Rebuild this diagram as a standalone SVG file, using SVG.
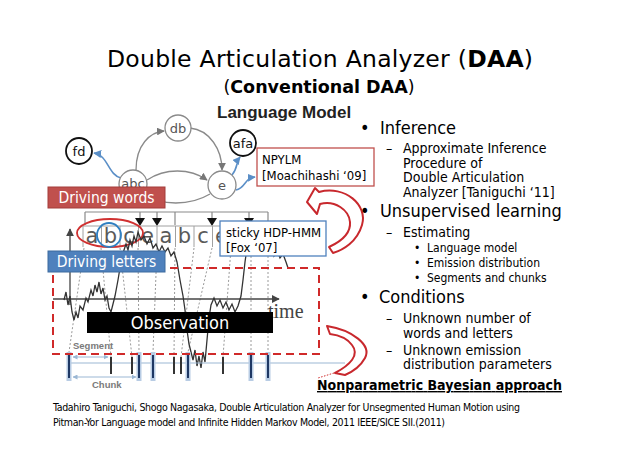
<svg xmlns="http://www.w3.org/2000/svg" width="638" height="452" viewBox="0 0 638 452">
<style>
.t{font-family:"DejaVu Sans Condensed","DejaVu Sans",sans-serif;font-stretch:condensed;fill:#000}
.tn{font-family:"DejaVu Sans",sans-serif;fill:#000}
.node circle{fill:#fff;stroke:#8a8a8a;stroke-width:1.3}
.node text{font-family:"DejaVu Sans",sans-serif;font-size:13px;fill:#555;text-anchor:middle}
.node.strong circle{stroke:#111;stroke-width:1.8}
.node.strong text{fill:#111}
.edge{fill:none;stroke:#8a8a8a;stroke-width:1.3}
.bedge{fill:none;stroke:#5b8fc7;stroke-width:1.6}
.dot{stroke:#9a9a9a;stroke-width:1;stroke-dasharray:2 2;fill:none}
.letter{font-family:"DejaVu Sans",sans-serif;font-size:21px;fill:#5a5a5a;text-anchor:middle}
.cell{stroke:#a0a0a0;stroke-width:1}
.bmark{fill:#b8cce4}
.bbar{stroke:#1f3864;stroke-width:2}
.tick{stroke:#333;stroke-width:2}
.hollow{fill:#fff;stroke:#c8282d;stroke-width:2;stroke-linejoin:round}
</style>
<defs>
<marker id="ag" viewBox="0 0 10 10" refX="9" refY="5" markerWidth="6" markerHeight="6" orient="auto"><path d="M0,0 L10,5 L0,10 z" fill="#777"/></marker>
<marker id="ab" viewBox="0 0 10 10" refX="9" refY="5" markerWidth="5" markerHeight="5" orient="auto"><path d="M0,0 L10,5 L0,10 z" fill="#5b8fc7"/></marker>
<marker id="ak" viewBox="0 0 10 10" refX="9" refY="5" markerWidth="6" markerHeight="6" orient="auto"><path d="M0,0 L10,5 L0,10 z" fill="#444"/></marker>
<marker id="al" viewBox="0 0 10 10" refX="9" refY="5" markerWidth="5" markerHeight="5" orient="auto-start-reverse"><path d="M0,0 L10,5 L0,10 z" fill="#9bb7d4"/></marker>
</defs>
<rect width="638" height="452" fill="#fff"/>

<!-- Title -->
<text class="tn" x="107" y="67" font-size="23.5" textLength="426">Double Articulation Analyzer (<tspan font-weight="bold">DAA</tspan>)</text>
<text class="tn" x="319" y="93" font-size="17.5" text-anchor="middle">(<tspan font-weight="bold">Conventional DAA</tspan>)</text>
<text x="217" y="118" font-family="Liberation Sans,Arial,sans-serif" font-weight="bold" font-size="17" fill="#222">Language Model</text>

<!-- Connectors -->
<g id="connectors">
<path class="edge" d="M136 170 C136 145 150 132 164 131" marker-end="url(#ag)"/>
<path class="edge" d="M190 128 C210 130 222 150 222 170" marker-end="url(#ag)"/>
<path class="edge" d="M147 180 C165 168 190 168 207 180" marker-end="url(#ag)"/>
<path class="edge" d="M210 194 C190 206 160 206 146 194"/>
<path class="bedge" d="M121 178 C108 175 108 155 94 153" marker-end="url(#ab)"/>
<path class="bedge" d="M232 175 C238 168 236 162 240 157" marker-end="url(#ab)"/>
<path class="bedge" d="M236 190 C246 188 244 178 255 177" marker-end="url(#ab)"/>
</g>

<g id="node-db" class="node"><circle cx="178" cy="128" r="13"/><text x="178" y="133">db</text></g>
<g id="node-afa" class="node strong"><circle cx="243" cy="143" r="13"/><text x="243" y="148">afa</text></g>
<g id="node-fd" class="node strong"><circle cx="79" cy="151" r="13"/><text x="79" y="156">fd</text></g>
<g id="node-abc" class="node"><circle cx="133" cy="184" r="14"/><text x="133" y="188">abc</text></g>
<g id="node-e" class="node"><circle cx="222" cy="185" r="14"/><text x="222" y="190">e</text></g>

<g id="npylm">
<rect x="257" y="148" width="117" height="38" fill="#fff" stroke="#c0504d" stroke-width="1.3"/>
<text class="t" x="262" y="164" font-size="13">NPYLM</text>
<text class="t" x="262" y="180" font-size="13">[Moachihashi ‘09]</text>
</g>

<g id="driving-words">
<rect x="48" y="187" width="117" height="21" fill="#c0504d" stroke="#a33d3a" stroke-width="1"/>
<text class="t" x="106.5" y="203" font-size="15.5" style="fill:#fff" text-anchor="middle">Driving words</text>
</g>

<!-- letter row -->
<g id="letters">
<path d="M85 212 H268 M85 212 V225 M175 212 V225 M268 212 V225 M140 212 V218 M157 212 V218 M212 212 V218 M249 212 V218" stroke="#8a8a8a" stroke-width="1.2" fill="none"/>
<polygon points="135,218 145,218 140,226" fill="#111"/>
<polygon points="152,218 162,218 157,226" fill="#111"/>
<polygon points="207,218 217,218 212,226" fill="#111"/>
<polygon points="244,218 254,218 249,226" fill="#111"/>
<path class="cell" d="M83 226 H232 M83 226 V247 M101.5 226 V247 M120 226 V247 M138.5 226 V247 M157 226 V247 M175.5 226 V247 M194 226 V247 M212.5 226 V247"/>
<text class="letter" x="92" y="243">a</text>
<text class="letter" x="110.5" y="243">b</text>
<text class="letter" x="129" y="243">c</text>
<text class="letter" x="147.5" y="243">e</text>
<text class="letter" x="166" y="243">a</text>
<text class="letter" x="184.5" y="243">b</text>
<text class="letter" x="203" y="243">c</text>
<text class="letter" x="221.5" y="243">e</text>
<ellipse cx="110" cy="233" rx="33" ry="14" fill="none" stroke="#d03030" stroke-width="1.8"/>
<circle cx="109" cy="235" r="12" fill="none" stroke="#2f7fc1" stroke-width="1.8"/>
</g>

<!-- dotted guides -->
<g id="guides">
<path class="dot" d="M84 248 L69 352 M101 248 L111 357 M120 248 L132 357 M138 248 L139 352 M157 248 L153 352 M175 248 L174 357 M194 248 L181 357 M212 248 L188 352 M231 248 L223 357 M251 256 L251 352 M268 256 L268 352"/>
</g>

<!-- waveform and axes -->
<g id="plot">
<path d="M70 305 V229" stroke="#444" stroke-width="1.3" marker-end="url(#ak)"/>
<path d="M53 299 H279" stroke="#444" stroke-width="1.3" marker-end="url(#ak)"/>
<path d="M64 300 L66 292 L68 305 L70 296 L72 312 L74 320 L76 312 L78 318 L80 306 L83 310 L86 298 L88 302 L91 290 L93 296 L95 285 L97 292 L99 282 L101 294 L103 288 L105 300 L107 296 L109 308 L111 312 L113 304 L115 296 L118 280 L121 262 L124 250 L126 244 L128 250 L130 240 L132 246 L134 236 L136 242 L138 232 L141 240 L144 236 L147 244 L150 238 L153 248 L156 244 L159 252 L162 246 L165 252 L168 248 L171 256 L174 252 L177 262 L180 280 L183 296 L185 310 L187 330 L189 344 L191 352 L193 360 L195 350 L197 366 L199 356 L201 368 L203 352 L205 362 L207 340 L209 318 L211 305 L214 298 L217 306 L220 300 L223 308 L226 302 L229 310 L232 304 L235 312 L238 306 L241 296 L243 280 L245 262 L247 248 L249 236 L251 244 L253 228 L255 236 L257 222 L259 232 L262 226 L265 240 L268 250 L271 244 L274 256 L277 250 L280 258 L283 254 L286 262 L288 268" fill="none" stroke="#333" stroke-width="1.3"/>
<text x="268" y="318" font-family="Liberation Serif,serif" font-size="20" fill="#444">time</text>
</g>

<g id="sticky">
<rect x="220" y="221" width="106" height="35" fill="#fff" stroke="#4f81bd" stroke-width="1.3"/>
<text class="t" x="226" y="237" font-size="13">sticky HDP-HMM</text>
<text class="t" x="226" y="252" font-size="13">[Fox ‘07]</text>
</g>

<!-- bottom segments -->
<g id="segments">
<path d="M67 363 H345" stroke="#9bb7d4" stroke-width="1.2"/>
<path d="M73 357 H108" stroke="#9bb7d4" stroke-width="1" marker-start="url(#al)" marker-end="url(#al)"/>
<path d="M73 377 H136" stroke="#9bb7d4" stroke-width="1" marker-start="url(#al)" marker-end="url(#al)"/>
<text x="73" y="349" font-family="Liberation Sans,Arial,sans-serif" font-size="9.5" font-weight="bold" fill="#7a7a7a">Segment</text>
<text x="92" y="388" font-family="Liberation Sans,Arial,sans-serif" font-size="9.5" font-weight="bold" fill="#7a7a7a">Chunk</text>
<rect class="bmark" x="66.5" y="352" width="5" height="29"/><path class="bbar" d="M69 355 V378"/>
<rect class="bmark" x="136.5" y="352" width="5" height="29"/><path class="bbar" d="M139 355 V378"/>
<rect class="bmark" x="150.5" y="352" width="5" height="29"/><path class="bbar" d="M153 355 V378"/>
<rect class="bmark" x="185.5" y="352" width="5" height="29"/><path class="bbar" d="M188 355 V378"/>
<rect class="bmark" x="248.5" y="352" width="5" height="29"/><path class="bbar" d="M251 355 V378"/>
<rect class="bmark" x="265.5" y="352" width="5" height="29"/><path class="bbar" d="M268 355 V378"/>
<path class="tick" d="M111 357 V374 M132 357 V374 M174 357 V374 M181 357 V374 M223 357 V374"/>
</g>

<rect x="53" y="268" width="266" height="86" fill="none" stroke="#d02a2a" stroke-width="2" stroke-dasharray="8 5"/>

<g id="driving-letters">
<rect x="48" y="251" width="117" height="21" fill="#4f81bd" stroke="#3d6a9e" stroke-width="1"/>
<text class="t" x="106.5" y="267" font-size="15.5" style="fill:#fff" text-anchor="middle">Driving letters</text>
</g>

<g id="observation">
<rect x="87" y="312" width="186" height="21" fill="#000"/>
<text class="t" x="180" y="329" font-size="18" style="fill:#fff" text-anchor="middle">Observation</text>
</g>

<!-- hollow red arrows -->
<path class="hollow" d="M307 202 L315 188 L319 192 C345 185 368 205 362 225 C357 242 343 250 333 253 L329 247 C340 242 351 234 350 222 C349 210 335 200 320 204 L317 214 Z"/>
<path class="hollow" d="M327 326 C352 330 372 345 365 358 C360 367 352 372 345 375 L335 373 C350 365 360 355 352 345 C347 338 338 335 330 334 Z"/>
<path d="M334 373 L318 378" stroke="#d02a2a" stroke-width="1" stroke-dasharray="1.5 1.5"/>

<!-- bullets -->
<g id="bullets">
<text class="t" x="360" y="134" font-size="18">•</text>
<text class="t" x="380" y="134" font-size="18">Inference</text>
<text class="t" x="386" y="153" font-size="14">–</text>
<text class="t" x="403" y="153" font-size="14">Approximate Inference</text>
<text class="t" x="403" y="168" font-size="14">Procedure of</text>
<text class="t" x="403" y="182" font-size="14">Double Articulation</text>
<text class="t" x="403" y="197" font-size="14">Analyzer [Taniguchi ‘11]</text>
<text class="t" x="360" y="217" font-size="18">•</text>
<text class="t" x="380" y="217" font-size="18">Unsupervised learning</text>
<text class="t" x="386" y="237" font-size="14">–</text>
<text class="t" x="403" y="237" font-size="14">Estimating</text>
<text class="t" x="414" y="252" font-size="12">•</text>
<text class="t" x="427" y="252" font-size="12">Language model</text>
<text class="t" x="414" y="267" font-size="12">•</text>
<text class="t" x="427" y="267" font-size="12">Emission distribution</text>
<text class="t" x="414" y="282" font-size="12">•</text>
<text class="t" x="427" y="282" font-size="12">Segments and chunks</text>
<text class="t" x="360" y="303" font-size="18">•</text>
<text class="t" x="379" y="303" font-size="18">Conditions</text>
<text class="t" x="386" y="323" font-size="14">–</text>
<text class="t" x="403" y="323" font-size="14">Unknown number of</text>
<text class="t" x="403" y="338" font-size="14">words and letters</text>
<text class="t" x="386" y="355" font-size="14">–</text>
<text class="t" x="403" y="355" font-size="14">Unknown emission</text>
<text class="t" x="403" y="369" font-size="14">distribution parameters</text>
<text class="t" x="317" y="390" font-size="14" font-weight="bold" text-decoration="underline" textLength="245">Nonparametric Bayesian  approach</text>
</g>

<g id="reference">
<text class="t" x="53" y="411" font-size="10.5" textLength="467">Tadahiro Taniguchi, Shogo Nagasaka, Double Articulation Analyzer for Unsegmented Human Motion using</text>
<text class="t" x="53" y="426" font-size="10.5" textLength="392">Pitman-Yor Language model and Infinite Hidden Markov Model, 2011 IEEE/SICE SII.(2011)</text>
</g>
</svg>
